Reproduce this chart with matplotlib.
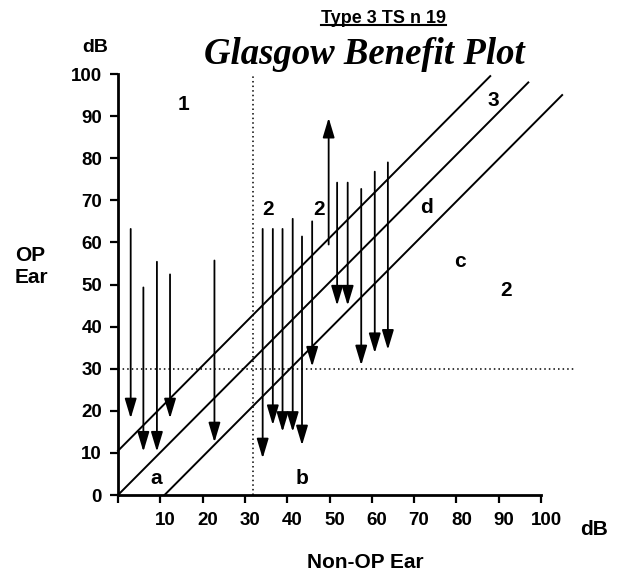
"""Glasgow Benefit Plot: pre/post OP-ear thresholds against the non-OP ear."""

import matplotlib

matplotlib.use("Agg")
import matplotlib.pyplot as plt
from matplotlib import transforms
from matplotlib.lines import Line2D

# values (dB)
non_op_ear = [3.0, 6.0, 9.2, 12.3, 22.8, 34.2, 36.6, 38.9, 41.3, 43.5, 45.9, 49.8, 51.8, 54.3, 57.5, 60.7, 63.8]
op_ear_pre = [63.2, 49.3, 55.4, 52.4, 55.7, 63.2, 63.2, 63.2, 65.6, 61.4, 65.0, 59.5, 74.2, 74.2, 72.7, 76.8, 79.0]
op_ear_post = [18.2, 10.3, 10.3, 18.2, 12.5, 8.7, 16.6, 15.0, 15.0, 11.8, 30.5, 89.6, 45.0, 45.0, 30.8, 33.7, 34.5]

# reference diagonals (start, end)
upper_band = ([0, 88], [10.5, 99.5])
identity_line = ([0, 97], [0, 98])
lower_band = ([11, 105], [0, 95])

# threshold cut-offs (dotted lines)
non_op_cutoff = 32
op_cutoff = 30

region_labels = [
    ("1", 15.5, 92.8), ("2", 35.5, 67.9), ("2", 47.6, 67.9), ("3", 88.7, 93.6),
    ("d", 72.9, 68.2), ("a", 9.0, 3.9), ("b", 43.5, 3.9), ("c", 80.9, 55.5), ("2", 91.7, 48.6),
]

y_ticks = list(range(0, 101, 10))
x_ticks = list(range(0, 101, 10))
x_tick_labels = [""] + [str(t) for t in x_ticks[1:]]

SANS = "Liberation Sans"
SERIF = "Liberation Serif"

fig = plt.figure(figsize=(6.26, 5.75), dpi=100)
ax = fig.add_axes([118 / 626, 1 - 495 / 575, 423 / 626, 421 / 575])
ax.set_xlim(0, 100)
ax.set_ylim(0, 100)

for name in ("top", "right"):
    ax.spines[name].set_visible(False)
for name in ("left", "bottom"):
    ax.spines[name].set_linewidth(2.0)
    ax.spines[name].set_bounds(0, 100)

ax.set_xticks(x_ticks)
ax.set_xticklabels(x_tick_labels)
ax.set_yticks(y_ticks)
ax.tick_params(axis="both", direction="out", length=5.5, width=1.6, colors="black")
ax.tick_params(axis="y", pad=6)
ax.tick_params(axis="x", pad=6.5)
for label in ax.get_xticklabels() + ax.get_yticklabels():
    label.set_fontfamily(SANS)
    label.set_fontweight("bold")
    label.set_fontsize(13.5)
shift = transforms.ScaledTranslation(5 / 100, 0, fig.dpi_scale_trans)
for label in ax.get_xticklabels():
    label.set_transform(label.get_transform() + shift)

# dotted cut-off lines
ax.plot([non_op_cutoff, non_op_cutoff], [0, 100], color="black", lw=1.1,
        linestyle=(0, (1, 2)), clip_on=False)
ax.plot([0, 108], [op_cutoff, op_cutoff], color="black", lw=1.1,
        linestyle=(0, (1, 2)), clip_on=False)

# diagonal band lines
for xs, ys in (upper_band, identity_line, lower_band):
    ax.plot(xs, ys, color="black", lw=1.4, clip_on=False)

# pre -> post arrows
for x_val, pre, post in zip(non_op_ear, op_ear_pre, op_ear_post):
    ax.annotate(
        "",
        xy=(x_val, post),
        xytext=(x_val, pre),
        arrowprops={
            "arrowstyle": "-|>,head_length=1.0,head_width=0.3",
            "mutation_scale": 12,
            "color": "black",
            "lw": 1.3,
            "shrinkA": 0,
            "shrinkB": 0,
        },
        annotation_clip=False,
    )

for text, x_val, y_val in region_labels:
    ax.text(x_val, y_val, text, ha="center", va="center", fontsize=15,
            fontweight="bold", family=SANS)

# axis titles
ax.text(-5.5, 106.4, "dB", ha="center", va="center", fontsize=14, fontweight="bold",
        family=SANS, clip_on=False)
ax.text(112.6, -8.3, "dB", ha="center", va="center", fontsize=15, fontweight="bold",
        family=SANS, clip_on=False)
ax.text(58.5, -16.1, "Non-OP Ear", ha="center", va="center", fontsize=15,
        fontweight="bold", family=SANS, clip_on=False)
ax.text(-24.4, 54.3, "OP\nEar", ha="left", va="center", fontsize=15, fontweight="bold",
        family=SANS, linespacing=1.2, clip_on=False)

ax.text(58.3, 104.7, "Glasgow Benefit Plot", ha="center", va="center", fontsize=26.5,
        fontweight="bold", fontstyle="italic", family=SERIF, clip_on=False)
subtitle = ax.text(62.8, 113.3, "Type 3 TS n 19", ha="center", va="center", fontsize=13,
                   fontweight="bold", family=SANS, clip_on=False)

# underline the subtitle
renderer = fig.canvas.get_renderer()
box = subtitle.get_window_extent(renderer).transformed(fig.transFigure.inverted())
fig.add_artist(Line2D([box.x0, box.x1], [box.y0 + 0.002, box.y0 + 0.002],
                      transform=fig.transFigure, color="black", lw=1.5))

fig.savefig("out.png", dpi=100)
